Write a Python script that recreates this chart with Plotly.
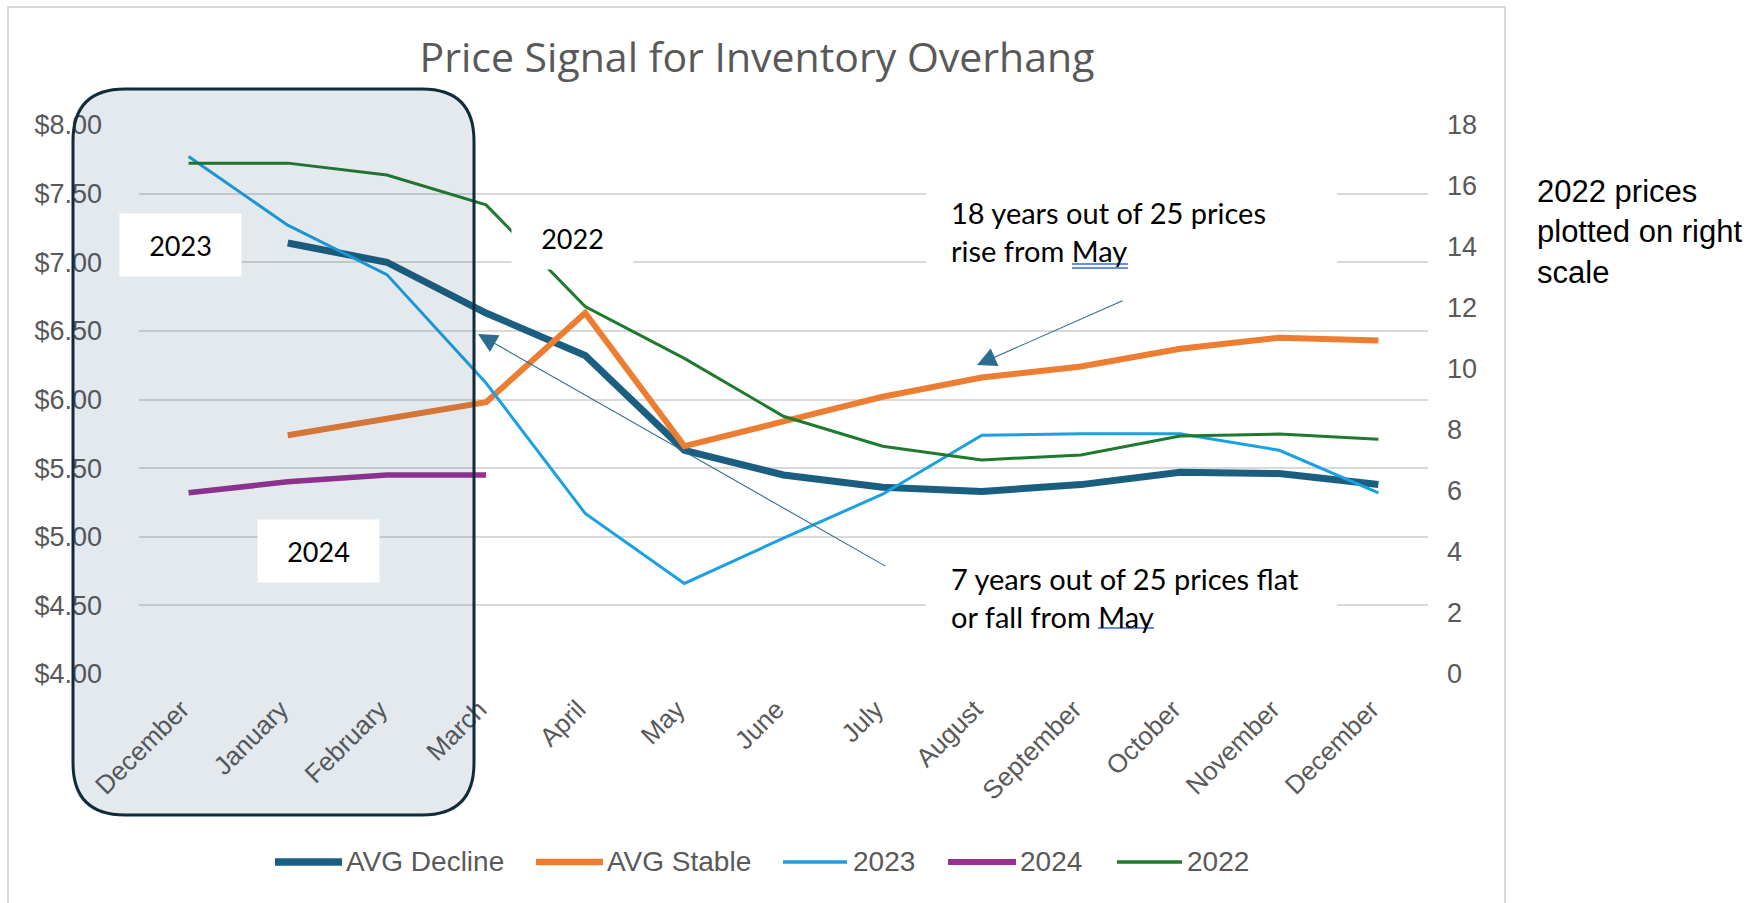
import plotly.graph_objects as go

# month axis (Dec of prior year through Dec)
months = ["December", "January", "February", "March", "April", "May", "June",
          "July", "August", "September", "October", "November", "December"]

# left scale ($)
avg_decline = [None, 7.14, 7.00, 6.63, 6.32, 5.63, 5.45, 5.36, 5.33, 5.38, 5.47, 5.46, 5.38]
avg_stable = [None, 5.74, 5.86, 5.98, 6.63, 5.66, 5.84, 6.02, 6.16, 6.24, 6.37, 6.45, 6.43]
prices_2023 = [7.77, 7.27, 6.91, 6.12, 5.17, 4.66, 4.99, 5.31, 5.74, 5.75, 5.75, 5.63, 5.32]
prices_2024 = [5.32, 5.40, 5.45, 5.45]
# right scale
prices_2022 = [16.75, 16.75, 16.36, 15.38, 12.05, 10.35, 8.45, 7.47, 7.02, 7.18, 7.80, 7.87, 7.70]

left_ticks = [4.0, 4.5, 5.0, 5.5, 6.0, 6.5, 7.0, 7.5, 8.0]
right_ticks = [0, 2, 4, 6, 8, 10, 12, 14, 16, 18]

W, H = 1762, 903
L, R, T, B = 139, 1428, 125, 674   # plot area in pixels


def px(x):
    return (x - L) / (R - L)


def py(y):
    return (B - y) / (B - T)


GRAY = "#595959"
AXFONT = dict(family="Liberation Sans, Arial", size=27, color=GRAY)
XFONT = dict(family="Liberation Sans, Arial", size=26, color=GRAY)
NOTEFONT = dict(family="Lato", size=29, color="black")
YEARFONT = dict(family="Lato", size=27, color="black")

x = list(range(len(months)))

# name, values, colour, width, axis, legend symbol x-range, legend text x
series = [
    ("AVG Decline", avg_decline, "#1A5E80", 7, "y", (275, 342), 344),
    ("AVG Stable", avg_stable, "#ED7D31", 6, "y", (536, 603), 605),
    ("2023", prices_2023, "#1BA1E2", 3, "y", (783, 847), 851),
    ("2024", prices_2024, "#9A2F92", 5.5, "y", (948, 1016), 1018),
    ("2022", prices_2022, "#1F7A2D", 3, "y2", (1117, 1182), 1185),
]

fig = go.Figure()
for name, vals, color, width, axis, _, _ in series:
    fig.add_trace(go.Scatter(x=x[:len(vals)], y=vals, name=name, mode="lines", yaxis=axis,
                             line=dict(color=color, width=width), showlegend=False))

# legend drawn along the bottom
LEG_Y = 861
for name, vals, color, width, axis, (sx0, sx1), tx in series:
    fig.add_shape(type="line", xref="paper", yref="paper", x0=px(sx0), x1=px(sx1),
                  y0=py(LEG_Y + 1), y1=py(LEG_Y + 1), line=dict(color=color, width=width + 0.5))
    fig.add_annotation(text=name, xref="paper", yref="paper", x=px(tx), y=py(LEG_Y),
                       xanchor="left", yanchor="middle", showarrow=False,
                       font=dict(family="Liberation Sans, Arial", size=28, color=GRAY))

# rounded highlight box over Dec-Mar
bx0, bx1, by0, by1, r = 73, 474, 89, 815, 52
path = (f"M {px(bx0 + r)},{py(by0)} L {px(bx1 - r)},{py(by0)} "
        f"Q {px(bx1)},{py(by0)} {px(bx1)},{py(by0 + r)} "
        f"L {px(bx1)},{py(by1 - r)} Q {px(bx1)},{py(by1)} {px(bx1 - r)},{py(by1)} "
        f"L {px(bx0 + r)},{py(by1)} Q {px(bx0)},{py(by1)} {px(bx0)},{py(by1 - r)} "
        f"L {px(bx0)},{py(by0 + r)} Q {px(bx0)},{py(by0)} {px(bx0 + r)},{py(by0)} Z")
fig.add_shape(type="path", path=path, xref="paper", yref="paper", layer="above",
              fillcolor="rgba(30,75,105,0.12)", line=dict(color="#0F2B3C", width=3))

# chart border
fig.add_shape(type="rect", xref="paper", yref="paper", layer="below",
              x0=px(8), x1=px(1505), y0=py(7), y1=py(920),
              line=dict(color="#D9D9D9", width=2))

# white boxes behind the two notes
for ny0, ny1 in [(182, 282), (547, 647)]:
    fig.add_shape(type="rect", xref="paper", yref="paper", layer="above",
                  x0=px(926), x1=px(1337), y0=py(ny0), y1=py(ny1),
                  fillcolor="white", line=dict(width=0))

# blue spell-check underlines under "May"
for ux0, ux1, uy in [(1072, 1128, 264), (1072, 1128, 268), (1098, 1154, 628)]:
    fig.add_shape(type="line", xref="paper", yref="paper", layer="above",
                  x0=px(ux0), x1=px(ux1), y0=py(uy), y1=py(uy),
                  line=dict(color="#3A66D9", width=1.5))

# year labels in white boxes
for label, cx, cy in [("2023", 180, 245), ("2024", 318, 551), ("2022", 572, 238)]:
    fig.add_annotation(text=label, xref="paper", yref="paper", x=px(cx), y=py(cy),
                       xanchor="center", yanchor="middle", showarrow=False,
                       bgcolor="white", width=121, height=62, borderpad=0,
                       font=YEARFONT)

# explanatory notes
for note, cy in [("18 years out of 25 prices<br>rise from May", 232),
                 ("7 years out of 25 prices flat<br>or fall from May", 597)]:
    fig.add_annotation(text=note, xref="paper", yref="paper", x=px(938), y=py(cy),
                       xanchor="left", yanchor="middle", align="left", showarrow=False,
                       width=375, borderpad=12, font=NOTEFONT)

# arrows
for tipx, tipy, tailx, taily in [(977, 365, 1124, 300), (478, 334, 887, 567)]:
    fig.add_annotation(text="", xref="paper", yref="paper", x=px(tipx), y=py(tipy),
                       ax=tailx - tipx, ay=taily - tipy, showarrow=True,
                       arrowhead=2, arrowsize=3.5, arrowwidth=1.1, arrowcolor="#2D6C8E")

# side note
fig.add_annotation(text="2022 prices<br>plotted on right<br>scale",
                   xref="paper", yref="paper", x=px(1535), y=py(232),
                   xanchor="left", yanchor="middle", align="left", showarrow=False,
                   font=dict(family="Liberation Sans, Arial", size=31, color="black"))

fig.update_layout(
    width=W, height=H,
    margin=dict(l=L, r=W - R, t=T, b=H - B),
    paper_bgcolor="white", plot_bgcolor="white",
    title=dict(text="Price Signal for Inventory Overhang", xref="paper", x=px(757),
               xanchor="center", y=1 - 58 / H, yanchor="middle",
               font=dict(family="Open Sans", size=41, color=GRAY)),
    xaxis=dict(range=[-0.5, len(months) - 0.5], tickvals=x, ticktext=months,
               tickangle=-45, tickfont=XFONT, showgrid=False, zeroline=False,
               showline=False, ticks="", ticklabelstandoff=14, ticklabelshift=-7),
    yaxis=dict(range=[4, 8], tickvals=left_ticks,
               ticktext=[f"${v:.2f}" for v in left_ticks],
               tickfont=AXFONT, gridcolor="#D9D9D9", gridwidth=2, zeroline=False,
               showline=False, ticklabelstandoff=36),
    yaxis2=dict(range=[0, 18], tickvals=right_ticks, overlaying="y", side="right",
                tickfont=AXFONT, showgrid=False, zeroline=False, showline=False,
                ticklabelstandoff=18),
    showlegend=False,
)

# the page body's default 8px margin would shift the whole figure
fig.write_html("out.html", config={"displayModeBar": False},
               post_script="document.body.style.margin='0';")
